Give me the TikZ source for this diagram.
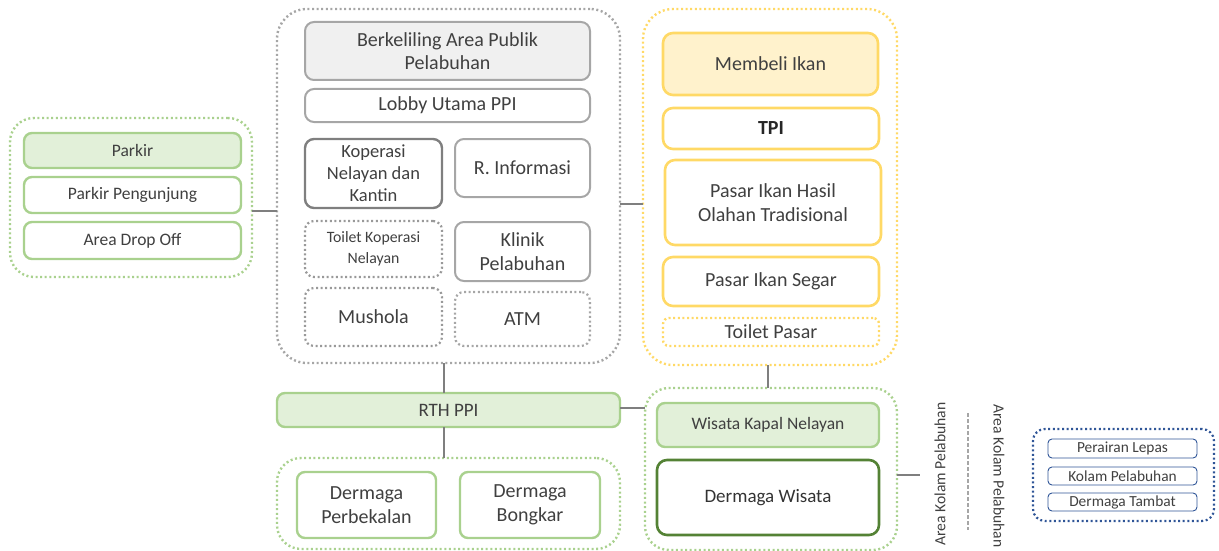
\documentclass[tikz,border=0pt]{standalone}
\usepackage{fontspec}
\setmainfont{Carlito}
\usetikzlibrary{calc}
\definecolor{txt}{HTML}{404040}
\definecolor{greyline}{HTML}{A6A6A6}
\definecolor{greydark}{HTML}{7F7F7F}
\definecolor{greyfill}{HTML}{F0F0F0}
\definecolor{greenline}{HTML}{A9D18E}
\definecolor{greenfill}{HTML}{E2F0D9}
\definecolor{greendark}{HTML}{548235}
\definecolor{yelline}{HTML}{FFD966}
\definecolor{yelfill}{HTML}{FFF2CC}
\definecolor{blueline}{HTML}{2F5597}
\definecolor{connline}{HTML}{7F7F7F}
% place a box from its corner coordinates (x1,y1)-(x2,y2), y measured downwards
\newcommand{\placebox}[7]{%
  \node[#6, minimum width={#4pt-#2pt}, minimum height={#5pt-#3pt}]
    (#1) at ({(#2+#4)/2},{(#3+#5)/2}) {#7};}
\tikzset{
  base/.style={rectangle, outer sep=0pt, inner sep=2pt, align=center,
    text=txt, font=\fontsize{20}{23.5}\selectfont},
  small/.style={font=\fontsize{17.5}{21}\selectfont},
  dots/.style={dash pattern=on 2pt off 2.6pt, line width=2.4pt},
  groupgrey/.style={base, draw=greyline, dots, rounded corners=30pt},
  groupgreen/.style={base, draw=greenline, dots, rounded corners=24pt},
  groupyel/.style={base, draw=yelline, dots, rounded corners=30pt},
  groupblue/.style={base, draw=blueline, dots, line width=2.2pt, rounded corners=12pt},
  greybox/.style={base, draw=greyline, line width=2pt, rounded corners=9pt},
  greyhead/.style={greybox, fill=greyfill},
  greydark/.style={base, draw=greydark, line width=2.4pt, rounded corners=9pt},
  greydot/.style={base, draw=greydark!80, dots, line width=2.2pt, rounded corners=9pt},
  greenbox/.style={base, draw=greenline, line width=2.4pt, rounded corners=8pt},
  greenhead/.style={greenbox, fill=greenfill},
  greenstrong/.style={base, draw=greendark, line width=2.6pt, rounded corners=10pt},
  yelbox/.style={base, draw=yelline, line width=2.6pt, rounded corners=10pt},
  yelhead/.style={yelbox, fill=yelfill},
  yeldot/.style={base, draw=yelline, dots, rounded corners=6pt},
  bluebox/.style={base, draw=blueline, line width=0.9pt, rounded corners=4pt,
    font=\fontsize{15.4}{17}\selectfont},
  conn/.style={draw=connline, line width=1.6pt},
  sidelabel/.style={text=txt, font=\fontsize{15.6}{17}\selectfont, inner sep=0pt}
}
\begin{document}
\begin{tikzpicture}[x=1pt, y=-1pt]
\useasboundingbox (0,0) rectangle (1219,551);

% parking group
\placebox{grpL}{10}{118}{252}{277}{groupgreen}{}
\placebox{parkir}{24}{133}{241}{168}{greenhead, small}{Parkir}
\placebox{pengunjung}{24}{177}{241}{213}{greenbox, fill=white, small}{Parkir Pengunjung}
\placebox{dropoff}{24}{222}{241}{259}{greenbox, fill=white, small}{Area Drop Off}

% public area group
\placebox{grpC}{277}{9}{620}{363}{groupgrey}{}
\placebox{keliling}{305}{22}{590}{80}{greyhead}{Berkeliling Area Publik\\Pelabuhan}
\placebox{lobby}{305}{89}{590}{122}{greybox}{Lobby Utama PPI}
\placebox{koperasi}{305}{139}{442}{208}{greydark, font=\fontsize{18.5}{22}\selectfont}{Koperasi\\Nelayan dan\\Kantin}
\placebox{info}{455}{139}{590}{197}{greybox}{R. Informasi}
\placebox{toiletkop}{305}{221}{442}{277}{greydot, font=\fontsize{15.8}{21}\selectfont}{Toilet Koperasi\\Nelayan}
\placebox{klinik}{455}{222}{590}{281}{greybox}{Klinik\\Pelabuhan}
\placebox{mushola}{305}{288}{442}{346}{greydot}{Mushola}
\placebox{atm}{455}{292}{590}{346}{greydot, draw=greyline}{ATM}

% market group
\placebox{grpY}{643}{9}{897}{365}{groupyel}{}
\placebox{beli}{663}{33}{878}{95}{yelhead}{Membeli Ikan}
\placebox{tpi}{663}{108}{879}{149}{yelbox, text=black!85}{\textbf{TPI}}
\placebox{olahan}{665}{160}{881}{245}{yelbox}{Pasar Ikan Hasil\\Olahan Tradisional}
\placebox{segar}{663}{257}{879}{306}{yelbox}{Pasar Ikan Segar}
\placebox{toiletpasar}{663}{318}{879}{346}{yeldot}{Toilet Pasar}

% green open space and docks
\placebox{rth}{277}{393}{620}{427}{greenhead, font=\fontsize{19}{22}\selectfont}{RTH PPI}
\placebox{grpD}{277}{458}{620}{549}{groupgreen}{}
\placebox{perbekalan}{297}{472}{436}{538}{greenbox}{Dermaga\\Perbekalan}
\placebox{bongkar}{460}{472}{600}{538}{greenbox}{Dermaga\\Bongkar}

% tourism group
\placebox{grpW}{645}{388}{897}{550}{groupgreen}{}
\placebox{kapal}{657}{403}{879}{447}{greenhead, small}{Wisata Kapal Nelayan}
\placebox{wisata}{657}{460}{879}{535}{greenstrong, text=black!80, font=\fontsize{19}{22}\selectfont}{Dermaga Wisata}

% water area legend
\placebox{grpB}{1033}{429}{1214}{521}{groupblue}{}
\placebox{lepas}{1048}{439}{1197}{458}{bluebox}{Perairan Lepas}
\placebox{kolam}{1048}{467}{1197}{485}{bluebox}{Kolam Pelabuhan}
\placebox{tambat}{1048}{493}{1197}{511}{bluebox}{Dermaga Tambat}

\node[sidelabel, rotate=90] (areaA) at (940,474) {Area Kolam Pelabuhan};
\node[sidelabel, rotate=-90] (areaB) at (999,476) {Area Kolam Pelabuhan};
\coordinate (divTop) at (968,413);
\coordinate (divBot) at (968,530);
\draw[draw=greyline, line width=1.4pt, dash pattern=on 4pt off 2pt] (divTop) -- (divBot);

% connectors
\coordinate (jL) at (0,211);
\coordinate (jC) at (0,204);
\coordinate (jX) at (444,0);
\coordinate (jY) at (768,0);
\coordinate (jR) at (0,408);
\coordinate (freeEnd) at (920,475);
\draw[conn] (grpL.east |- jL) -- (grpC.west |- jL);
\draw[conn] (grpC.east |- jC) -- (grpY.west |- jC);
\draw[conn] (grpC.south -| jX) -- (rth.north -| jX);
\draw[conn] (rth.south -| jX) -- (grpD.north -| jX);
\draw[conn] (grpY.south -| jY) -- (grpW.north -| jY);
\draw[conn] (rth.east |- jR) -- (grpW.west |- jR);
\draw[conn] (grpW.east |- freeEnd) -- (freeEnd);
\end{tikzpicture}
\end{document}
